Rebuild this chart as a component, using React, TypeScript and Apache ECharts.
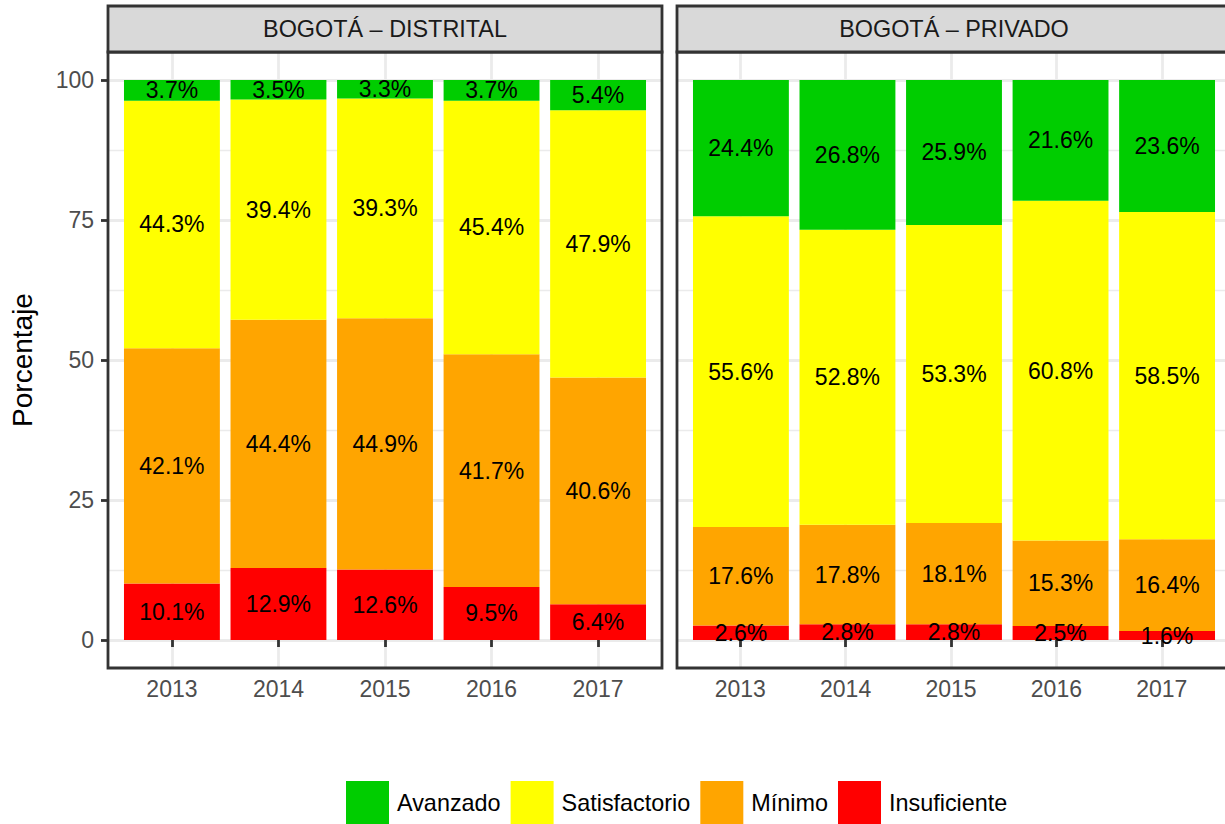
import React, { useEffect, useRef } from "react";
import * as echarts from "echarts";

const years = ["2013", "2014", "2015", "2016", "2017"];
const levels = ["Avanzado", "Satisfactorio", "Mínimo", "Insuficiente"];
const levelColors = ["#00CD00", "#FFFF00", "#FFA500", "#FF0000"];
const panelTitles = ["BOGOTÁ – DISTRITAL", "BOGOTÁ – PRIVADO"];

// Distrital
const distInsuficiente = [10.1, 12.9, 12.6, 9.5, 6.4];
const distMinimo = [42.1, 44.4, 44.9, 41.7, 40.6];
const distSatisfactorio = [44.3, 39.4, 39.3, 45.4, 47.9];
const distAvanzado = [3.7, 3.5, 3.3, 3.7, 5.4];

// Privado
const privInsuficiente = [2.6, 2.8, 2.8, 2.5, 1.6];
const privMinimo = [17.6, 17.8, 18.1, 15.3, 16.4];
const privSatisfactorio = [55.6, 52.8, 53.3, 60.8, 58.5];
const privAvanzado = [24.4, 26.8, 25.9, 21.6, 23.6];

const yTicks = [0, 25, 50, 75, 100];
const yMinor = [12.5, 37.5, 62.5, 87.5];

const FONT = "Liberation Sans, Arial, Helvetica, sans-serif";
const BORDER = "#333333";
const GRID = "#EBEBEB";

export default function App() {
  const ref = useRef<HTMLDivElement>(null);

  useEffect(() => {
    if (!ref.current) return;
    const chart = echarts.init(ref.current, undefined, { renderer: "svg" });

    const panels = [
      { left: 108, stack: "dist", data: [distAvanzado, distSatisfactorio, distMinimo, distInsuficiente] },
      { left: 677, stack: "priv", data: [privAvanzado, privSatisfactorio, privMinimo, privInsuficiente] },
    ];
    const panelW = 554;
    const top = 52;
    const bottom = 668;
    const xIdx = years.map((_, i) => i + 1);
    const xMin = 0.4;
    const xMax = 5.6;
    const unit = panelW / (xMax - xMin);

    // grids 0,1: full panels (gridlines, ticks, labels); grids 2,3: bars
    const grids: any[] = [];
    panels.forEach((p) => {
      grids.push({ left: p.left, top, width: panelW, height: bottom - top, containLabel: false });
    });
    panels.forEach((p) => {
      grids.push({
        left: p.left + (0.5 - xMin) * unit,
        top,
        width: years.length * unit,
        height: bottom - top,
        containLabel: false,
      });
    });

    const xAxes: any[] = [];
    const yAxes: any[] = [];
    panels.forEach((_, gi) => {
      xAxes.push({
        type: "value",
        gridIndex: gi,
        min: xMin,
        max: xMax,
        axisLine: { show: false },
        splitLine: { show: false },
        axisTick: {
          show: true,
          length: 7,
          customValues: xIdx,
          lineStyle: { color: BORDER, width: 2.8 },
        },
        axisLabel: {
          customValues: xIdx,
          formatter: (v: number) => years[Math.round(v) - 1] ?? "",
          fontSize: 23,
          color: "#4D4D4D",
          fontFamily: FONT,
          margin: 9,
        },
      });
      yAxes.push({
        type: "value",
        gridIndex: gi,
        min: -5,
        max: 105,
        name: gi === 0 ? "Porcentaje" : "",
        nameLocation: "middle",
        nameGap: 72,
        nameTextStyle: { fontSize: 28, color: "#000", fontFamily: FONT },
        axisLine: { show: false },
        splitLine: { show: false },
        axisTick: {
          show: gi === 0,
          length: 7,
          customValues: yTicks,
          lineStyle: { color: BORDER, width: 2.8 },
        },
        axisLabel: {
          show: gi === 0,
          customValues: yTicks,
          fontSize: 23,
          color: "#4D4D4D",
          fontFamily: FONT,
          margin: 14,
        },
      });
    });
    panels.forEach((_, gi) => {
      xAxes.push({
        type: "category",
        gridIndex: gi + 2,
        data: years,
        boundaryGap: true,
        show: false,
      });
      yAxes.push({
        type: "value",
        gridIndex: gi + 2,
        min: -5,
        max: 105,
        show: false,
        splitLine: { show: false },
      });
    });

    const series: any[] = [];
    panels.forEach((p, gi) => {
      series.push({
        type: "line",
        name: "grid" + gi,
        xAxisIndex: gi,
        yAxisIndex: gi,
        data: [],
        silent: true,
        z: 0,
        markLine: {
          silent: true,
          symbol: ["none", "none"],
          z: 0,
          animation: false,
          label: { show: false },
          emphasis: { disabled: true },
          data: [
            ...yMinor.map((v) => ({ yAxis: v, lineStyle: { color: GRID, width: 1.4, type: "solid" } })),
            ...yTicks.map((v) => ({ yAxis: v, lineStyle: { color: GRID, width: 2.8, type: "solid" } })),
            ...xIdx.map((v) => ({ xAxis: v, lineStyle: { color: GRID, width: 2.8, type: "solid" } })),
          ],
        },
      });
    });

    panels.forEach((p, gi) => {
      // totals per year, so each bar fills exactly 100 (labels keep the printed values)
      const totals = years.map((_, i) => p.data.reduce((s, arr) => s + arr[i], 0));
      // bottom to top: Insuficiente, Mínimo, Satisfactorio, Avanzado
      [3, 2, 1, 0].forEach((li) => {
        series.push({
          type: "bar",
          name: levels[li],
          xAxisIndex: gi + 2,
          yAxisIndex: gi + 2,
          stack: p.stack,
          barCategoryGap: "10%",
          z: 2,
          itemStyle: { color: levelColors[li] },
          label: {
            show: true,
            position: "inside",
            color: "#000",
            fontSize: 23,
            fontFamily: FONT,
            formatter: (prm: any) => p.data[li][prm.dataIndex].toFixed(1) + "%",
          },
          emphasis: { disabled: true },
          data: p.data[li].map((v, i) => (v * 100) / totals[i]),
        });
      });
    });

    const graphic: any[] = [];
    panels.forEach((p, gi) => {
      graphic.push({
        type: "rect",
        z: 100,
        silent: true,
        shape: { x: p.left, y: top, width: panelW, height: bottom - top },
        style: { fill: "none", stroke: BORDER, lineWidth: 2.8 },
      });
      graphic.push({
        type: "rect",
        z: 100,
        silent: true,
        shape: { x: p.left, y: 6, width: panelW, height: top - 6 },
        style: { fill: "#D9D9D9", stroke: BORDER, lineWidth: 2.8 },
      });
      graphic.push({
        type: "text",
        z: 101,
        silent: true,
        x: p.left + panelW / 2,
        y: (6 + top) / 2,
        style: {
          text: panelTitles[gi],
          fontSize: 23.4,
          fontFamily: FONT,
          fill: "#1A1A1A",
          align: "center",
          verticalAlign: "middle",
        },
      });
    });

    chart.setOption({
      animation: false,
      backgroundColor: "#FFFFFF",
      textStyle: { fontFamily: FONT },
      grid: grids,
      xAxis: xAxes,
      yAxis: yAxes,
      legend: {
        data: levels,
        left: 346,
        top: 781,
        padding: 0,
        icon: "rect",
        itemWidth: 43,
        itemHeight: 43,
        itemGap: 10,
        selectedMode: false,
        textStyle: { fontSize: 23.4, color: "#000", fontFamily: FONT, padding: [0, 0, 0, 3] },
      },
      series,
      graphic,
    } as any);

    return () => chart.dispose();
  }, []);

  return (
    <div
      ref={ref}
      style={{ position: "absolute", left: 0, top: 0, width: 1225, height: 824 }}
    />
  );
}
